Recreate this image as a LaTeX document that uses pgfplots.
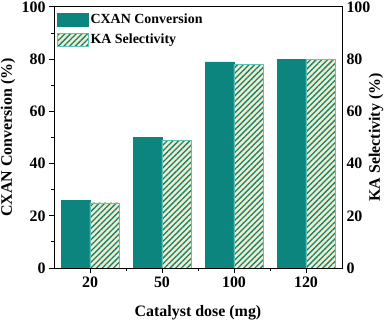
\documentclass[border=0pt]{standalone}
\usepackage{pgfplots}
\pgfplotsset{compat=1.18}
\usetikzlibrary{patterns.meta}
\usepackage{fontspec}
\setmainfont{Liberation Serif}
\definecolor{tealbar}{HTML}{0B857D}
\definecolor{cream}{HTML}{F6EBC4}
\definecolor{hatchedge}{HTML}{5FC0B8}

\pgfplotsset{
  common/.style={
    at={(0,0)}, anchor=south west,
    scale only axis,
    width=288bp, height=261bp,
    xmin=-0.5, xmax=3.5,
    ymin=0, ymax=100,
    ytick={0,20,...,100},
    tick align=outside,
    major tick length=5bp, minor tick length=3bp,
    tick style={black, line width=1pt},
    axis line style={line width=1pt},
    /pgf/number format/assume math mode=true,
    tick label style={font=\bfseries\fontsize{16}{18}\selectfont},
    label style={font=\bfseries\fontsize{16}{18}\selectfont},
  },
}

\begin{document}
\begin{tikzpicture}[x=1bp,y=1bp]
\begin{axis}[
    common,
    xtick={0,1,2,3},
    xticklabels={20,50,100,120},
    minor xtick={0.5,1.5,2.5},
    minor ytick={10,30,...,90},
    tick pos=left,
    ylabel={CXAN Conversion (\%)},
    xlabel={Catalyst dose (mg)},
    ylabel style={at={(axis description cs:-0.16,0.5)}, anchor=center},
    xlabel style={at={(axis description cs:0.5,-0.172)}, anchor=center},
    ybar=0pt, bar width=0.4,
    legend style={at={(axis description cs:0.0104,0.981)}, anchor=north west,
        draw=none, fill=none, inner sep=0pt,
        font=\bfseries\fontsize{14}{16}\selectfont, row sep=5bp},
    legend cell align=left,
    legend image code/.code={\draw[#1] (0bp,-6.5bp) rectangle (31bp,6.5bp);},
]
\addplot[fill=tealbar, draw=tealbar] coordinates {(0,26) (1,50) (2,79) (3,80)};
\addplot[fill=cream, draw=hatchedge,
    postaction={pattern={Lines[angle=45, distance=4bp, line width=1.3bp]}, pattern color=tealbar}]
    coordinates {(0,25) (1,49) (2,78) (3,80)};
\legend{CXAN Conversion, KA Selectivity}
\end{axis}
\begin{axis}[
    common,
    xtick=\empty,
    axis x line=none,
    axis y line*=right,
    major tick length=0pt,
    yticklabel style={xshift=1bp},
    ylabel={KA Selectivity (\%)},
    ylabel style={at={(axis description cs:1.118,0.5)}, anchor=center},
]
\end{axis}
\pgfresetboundingbox
\useasboundingbox (-54bp,-57bp) rectangle (333bp,268bp);
\end{tikzpicture}
\end{document}
